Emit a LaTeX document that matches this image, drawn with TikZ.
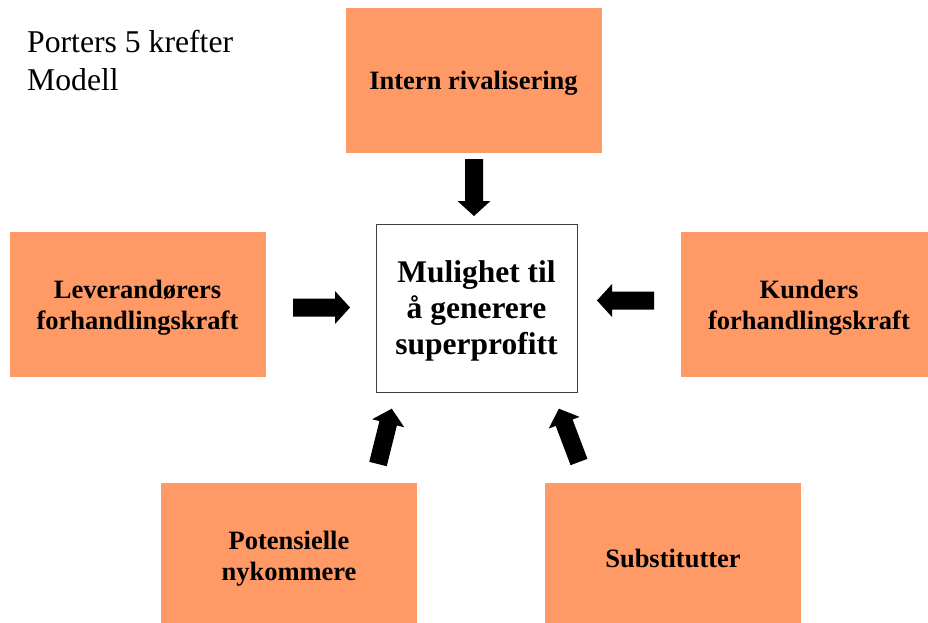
\documentclass[tikz,border=0pt]{standalone}
\usepackage{fontspec}
\setmainfont{Liberation Serif}
\definecolor{forceorange}{HTML}{FF9966}
% invisible strut that makes the first line of a label a bit taller
\newcommand{\toplift}[1]{\rule{0pt}{#1}}
\begin{document}
\begin{tikzpicture}[x=1pt,y=-1pt,
  force/.style={fill=forceorange, minimum width=256pt, minimum height=145pt,
    inner sep=0pt, align=center, font=\fontsize{26.5}{31}\selectfont\bfseries},
  hub/.style={draw=black!75, line width=0.9pt, fill=white, minimum width=201pt,
    minimum height=168pt, inner sep=0pt, align=center,
    font=\fontsize{31.5}{36}\selectfont\bfseries},
  blockarrow/.pic={\fill[black] (0,-9) -- (42,-9) -- (42,-16.5) -- (57,0)
    -- (42,16.5) -- (42,9) -- (0,9) -- cycle;}
]
\clip (0,0) rectangle (928,622);

% title
\node[anchor=north west, inner sep=0pt, align=left,
  font=\fontsize{31.7}{37.5}\selectfont] (title) at (27,30.3)
  {Porters 5 krefter\\Modell};

% the five forces
\node[force] (rivalry)     at (473.5,80)    {\toplift{24pt}Intern rivalisering};
\node[force] (suppliers)   at (137.5,304.5) {\toplift{24pt}Leverandørers\\forhandlingskraft};
\node[force] (buyers)      at (809,304.5)   {\toplift{24pt}Kunders\\forhandlingskraft};
\node[force] (entrants)    at (289,555.5)   {\toplift{24pt}Potensielle\\nykommere};
\node[force] (substitutes) at (673,555.5)   {\toplift{24pt}Substitutter};

% centre
\node[hub] (profit) at (476.5,308) {\toplift{28pt}Mulighet til\\å generere\\superprofitt};

% block arrows pointing at the centre
\pic[rotate=-90]   at (474,159)   {blockarrow};
\pic               at (293,307.5) {blockarrow};
\pic[rotate=180]   at (654,300.5) {blockarrow};
\pic[rotate=76]    at (378,464)   {blockarrow};
\pic[rotate=110.7] at (579,462)   {blockarrow};
\end{tikzpicture}
\end{document}
